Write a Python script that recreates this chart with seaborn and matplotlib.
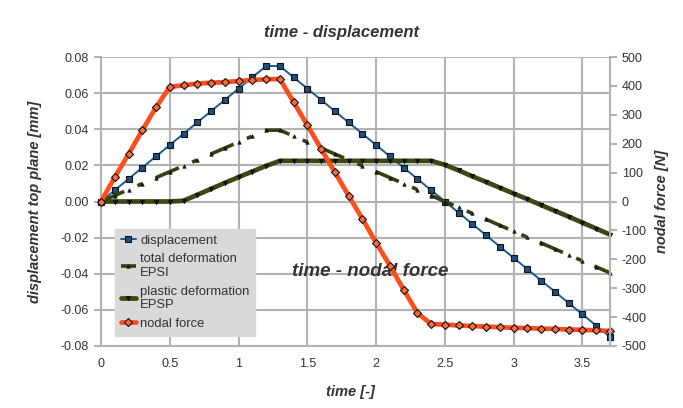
import matplotlib
matplotlib.use("Agg")
import matplotlib.pyplot as plt
import seaborn as sns

time = [0.0, 0.1, 0.2, 0.3, 0.4, 0.5, 0.6, 0.7, 0.8, 0.9,
        1.0, 1.1, 1.2, 1.3, 1.4, 1.5, 1.6, 1.7, 1.8, 1.9,
        2.0, 2.1, 2.2, 2.3, 2.4, 2.5, 2.6, 2.7, 2.8, 2.9,
        3.0, 3.1, 3.2, 3.3, 3.4, 3.5, 3.6, 3.7]

displacement = [0.0, 0.00625, 0.0125, 0.01875, 0.025, 0.03125, 0.0375, 0.04375, 0.05, 0.05625,
                0.0625, 0.06875, 0.075, 0.075, 0.06875, 0.0625, 0.05625, 0.05, 0.04375, 0.0375,
                0.03125, 0.025, 0.01875, 0.0125, 0.00625, 0.0, -0.00625, -0.0125, -0.01875, -0.025,
                -0.03125, -0.0375, -0.04375, -0.05, -0.05625, -0.0625, -0.06875, -0.075]

total_epsi = [0.0, 0.0033, 0.0066, 0.0099, 0.0132, 0.0165, 0.0198, 0.0230, 0.0263, 0.0296,
              0.0329, 0.0362, 0.0395, 0.0395, 0.0362, 0.0329, 0.0296, 0.0263, 0.0230, 0.0198,
              0.0165, 0.0132, 0.0099, 0.0066, 0.0033, 0.0, -0.0033, -0.0066, -0.0099, -0.0132,
              -0.0165, -0.0198, -0.0230, -0.0263, -0.0296, -0.0329, -0.0362, -0.0395]

plastic_epsp = [0.0, 0.0, 0.0, 0.0, 0.0, 0.0, 0.0004, 0.0037, 0.0070, 0.0103,
                0.0135, 0.0166, 0.0197, 0.0225, 0.0225, 0.0225, 0.0225, 0.0225, 0.0225, 0.0225,
                0.0225, 0.0225, 0.0225, 0.0225, 0.0225, 0.0203, 0.0172, 0.0139, 0.0108, 0.0076,
                0.0044, 0.0013, -0.0020, -0.0052, -0.0084, -0.0117, -0.0150, -0.0183]

nodal_force = [0, 84, 164, 246, 326, 397, 402, 408, 411, 413,
               417, 420, 423, 424, 344, 264, 182, 101, 20, -60,
               -143, -222, -305, -386, -424, -426, -429, -431, -433, -435,
               -437, -438, -440, -441, -443, -444, -446, -448]

left_ticks = [-0.08, -0.06, -0.04, -0.02, 0.0, 0.02, 0.04, 0.06, 0.08]
right_ticks = [-500, -400, -300, -200, -100, 0, 100, 200, 300, 400, 500]
x_ticks = [0, 0.5, 1, 1.5, 2, 2.5, 3, 3.5]

sns.set_style("white")
plt.rcParams['font.family'] = ['Liberation Sans', 'DejaVu Sans']

grid_c = "#b3b3b3"
text_c = "#333333"

fig = plt.figure(figsize=(6.83, 4.08), dpi=100)
ax = fig.add_axes([101 / 683, 1 - 346 / 408, 509 / 683, 289 / 408])
ax2 = ax.twinx()

sns.lineplot(x=time, y=displacement, ax=ax, color="#1f5b92", linewidth=1.4,
             marker="s", markersize=5, markerfacecolor="#1d4f80",
             markeredgecolor="#111111", markeredgewidth=0.8, label="displacement",
             clip_on=False)
sns.lineplot(x=time, y=total_epsi, ax=ax, color="#33400f", linewidth=2.6,
             marker="^", markersize=2.5, markerfacecolor="#222222",
             markeredgecolor="#111111", markeredgewidth=0.5, label="total deformation\nEPSI",
             clip_on=False)
ax.lines[-1].set_dashes([7, 4, 1.5, 4])
sns.lineplot(x=time, y=plastic_epsp, ax=ax, color="#3a4812", linewidth=3.4,
             marker="v", markersize=3.2, markerfacecolor="#111111",
             markeredgecolor="#111111", markeredgewidth=0.5, label="plastic deformation\nEPSP",
             clip_on=False)
sns.lineplot(x=time, y=nodal_force, ax=ax2, color="#ff4d1c", linewidth=3.4,
             marker="D", markersize=4.2, markerfacecolor="#ff6b3d",
             markeredgecolor="#111111", markeredgewidth=0.8, label="nodal force",
             clip_on=False)

ax.set_xlim(0, 3.7)
ax.set_ylim(-0.08, 0.08)
ax2.set_ylim(-500, 500)
ax.set_xticks(x_ticks)
ax.set_xticklabels(["0", "0.5", "1", "1.5", "2", "2.5", "3", "3.5"])
ax.set_yticks(left_ticks)
ax.set_yticklabels([f"{v:.2f}" for v in left_ticks])
ax2.set_yticks(right_ticks)
ax2.set_yticklabels([str(v) for v in right_ticks])

ax.grid(True, color=grid_c, linewidth=1.5)
ax.set_axisbelow(True)
ax2.grid(False)

for a in (ax, ax2):
    for s in a.spines.values():
        s.set_visible(False)
    a.tick_params(colors=grid_c, labelcolor=text_c, labelsize=9, length=5, width=1.5)
for a, side in ((ax, "left"), (ax, "bottom"), (ax2, "right")):
    a.spines[side].set_visible(True)
    a.spines[side].set_color(grid_c)
    a.spines[side].set_linewidth(1.5)

ax.set_xlabel("time [-]", fontsize=10.5, fontweight="bold", fontstyle="italic", color=text_c)
ax.set_ylabel("displacement top plane [mm]", fontsize=10.5, fontweight="bold",
              fontstyle="italic", color=text_c)
ax2.set_ylabel("nodal force [N]", fontsize=10.5, fontweight="bold", fontstyle="italic",
               color=text_c)
ax.xaxis.set_label_coords((350 - 101) / 509, -(385 - 346) / 289)
ax.yaxis.set_label_coords(-(101 - 42) / 509, 0.5)
ax2.yaxis.set_label_coords(1 + (655 - 610) / 509, 0.5)

fig.text(342 / 683, 1 - 32 / 408, "time - displacement", ha="center", va="center",
         fontsize=12, fontweight="bold", fontstyle="italic", color=text_c)
ax.text((370 - 101) / 509, (346 - 271) / 289, "time - nodal force", transform=ax.transAxes,
        ha="center", va="center", fontsize=13.5, fontweight="bold", fontstyle="italic",
        color=text_c, zorder=5)

h1, l1 = ax.get_legend_handles_labels()
h2, l2 = ax2.get_legend_handles_labels()
ax.get_legend().remove()
leg = ax2.legend(h1 + h2, l1 + l2, loc="lower left", bbox_to_anchor=(0.027, 0.035),
                 borderaxespad=0, frameon=True, fancybox=False, fontsize=9.4,
                 handlelength=1.2, handletextpad=0.3, labelspacing=0.5,
                 borderpad=0.45)
leg.get_frame().set_facecolor("#d9d9d9")
leg.get_frame().set_edgecolor("#d9d9d9")
leg.get_frame().set_alpha(1)
for t in leg.get_texts():
    t.set_color(text_c)

fig.savefig("out.png", dpi=100)
